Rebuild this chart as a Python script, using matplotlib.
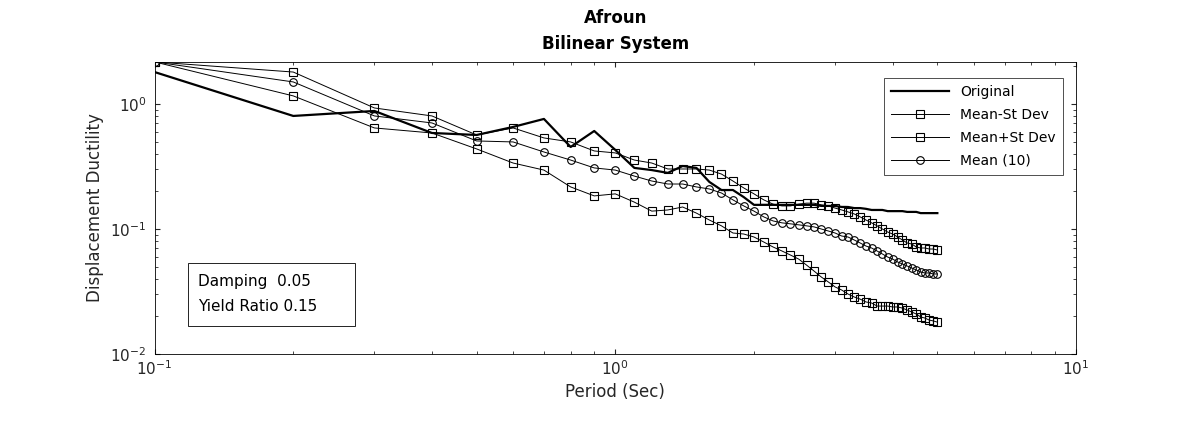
import matplotlib
matplotlib.use("Agg")
import matplotlib.pyplot as plt
from matplotlib.patches import Rectangle

periods = [round(0.1 * i, 1) for i in range(1, 51)]

original = [1.80, 0.802, 0.879, 0.586, 0.565, 0.655, 0.759, 0.453, 0.608,
            .429, .308, .296, .281, .319, .308, .238, .205, .205, .180, .156, .156, .156, .156, .156,
            .156, .156, .156, .153, .153, .153, .150, .150, .147, .147, .145, .142, .142, .142, .139,
            .139, .139, .139, .137, .137, .137, .134, .134, .134, .134, .134]

mean_minus = [2.17, 1.16, 0.643, 0.586, 0.437, 0.337, 0.296, 0.217, 0.184, 0.191,
              .164, .139, .142, .150, .134, .118, .106, .0929, .0912, .0863, .0787, .0718, .0667,
              .0619, .0575, .0515, .0461, .0413, .0377, .0344, .0325, .0302, .0286, .0275, .0261,
              .0256, .0242, .0242, .0242, .0238, .0238, .0233, .0225, .0217, .0209, .0198, .0194,
              .0187, .0184, .0180]

mean_plus = [2.17, 1.80, 0.929, 0.802, 0.565, 0.643, 0.535, 0.497, 0.421,
             .406, .356, .337, .302, .302, .302, .296, .275, .242, .213, .191, .171, .158, .153,
             .153, .158, .161, .161, .156, .153, .147, .142, .137, .132, .125, .118, .112, .106,
             .100, .0946, .0912, .0863, .0817, .0773, .0759, .0718, .0705, .0705, .0692, .0692, .0679]

mean10 = [2.17, 1.50, 0.802, 0.705, 0.506, 0.497, 0.413, 0.356, 0.308,
          .296, .265, .242, .229, .229, .217, .209, .194, .171, .153, .139, .125, .116, .112,
          .110, .108, .106, .104, .100, .0964, .0929, .0879, .0863, .0817, .0773, .0731, .0705,
          .0667, .0631, .0597, .0575, .0545, .0525, .0506, .0488, .0470, .0453, .0445, .0445,
          .0437, .0437]

fig = plt.figure(figsize=(11.89, 4.21), dpi=100)
ax = fig.add_axes([0.130, 0.159, 0.775, 0.694])
ax.plot(periods, original, color="black", lw=1.6, label="Original")
ax.plot(periods, mean_minus, color="black", lw=0.7, marker="s", ms=5.5, mfc="none", mew=0.8, label="Mean-St Dev")
ax.plot(periods, mean_plus, color="black", lw=0.7, marker="s", ms=5.5, mfc="none", mew=0.8, label="Mean+St Dev")
ax.plot(periods, mean10, color="black", lw=0.7, marker="o", ms=5.5, mfc="none", mew=0.8, label="Mean (10)")
ax.set_xscale("log")
ax.set_yscale("log")
ax.set_xlim(0.1, 10)
ax.set_ylim(0.01, 2.17)
ax.tick_params(which="both", direction="in", top=True, right=True, labelsize=11, colors="#262626")
ax.tick_params(axis="y", pad=6)
for s in ax.spines.values():
    s.set_linewidth(0.6)
ax.set_xlabel("Period (Sec)", fontsize=12, color="#262626")
ax.set_ylabel("Displacement Ductility", fontsize=12, color="#262626")
ax.set_title("Afroun\nBilinear System", fontsize=12, fontweight="bold", linespacing=1.6, pad=9)
leg = ax.legend(loc="upper right", bbox_to_anchor=(0.993, 0.97), fancybox=False, edgecolor="black",
                fontsize=10, handlelength=4.2, borderpad=0.5, labelspacing=0.65)
leg.get_frame().set_linewidth(0.6)
ax.add_patch(Rectangle((0.036, 0.096), 0.181, 0.216, transform=ax.transAxes,
                       fc="white", ec="black", lw=0.6, zorder=5))
ax.text(0.047, 0.247, "Damping  0.05", transform=ax.transAxes, fontsize=11, va="center", zorder=6)
ax.text(0.047, 0.164, "Yield Ratio 0.15", transform=ax.transAxes, fontsize=11, va="center", zorder=6)
fig.savefig("out.png", dpi=100)
